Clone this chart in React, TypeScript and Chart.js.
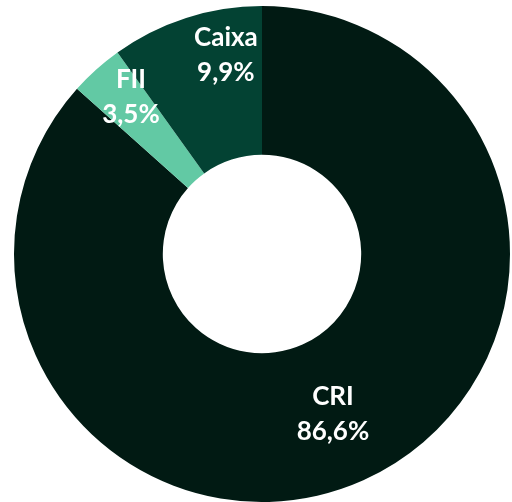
import React, { useEffect, useRef } from "react";
import { Chart, registerables } from "chart.js";

Chart.register(...registerables);

const categories = ["CRI", "FII", "Caixa"];
const values = [86.6, 3.5, 9.9];
const valueLabels = ["86,6%", "3,5%", "9,9%"];
const colors = ["#011a13", "#62c9a4", "#034233"];
// per-label nudges from the arc centroid (styling only)
const labelNudges = [
  [0, 2],
  [-15, -28],
  [17, -34],
];

const labelPlugin = {
  id: "sliceLabels",
  afterDatasetsDraw(chart: any) {
    const ctx = chart.ctx;
    const meta = chart.getDatasetMeta(0);
    ctx.save();
    ctx.fillStyle = "#ffffff";
    ctx.font = "bold 26px Lato";
    ctx.textAlign = "center";
    ctx.textBaseline = "middle";
    meta.data.forEach((arc: any, i: number) => {
      const p = arc.tooltipPosition(false);
      const x = p.x + labelNudges[i][0];
      const y = p.y + labelNudges[i][1];
      ctx.fillText(categories[i], x, y - 17.5);
      ctx.fillText(valueLabels[i], x, y + 17.5);
    });
    ctx.restore();
  },
};

export default function App() {
  const ref = useRef<HTMLCanvasElement>(null);
  useEffect(() => {
    if (!ref.current) return;
    const chart = new Chart(ref.current, {
      type: "doughnut",
      data: {
        labels: categories,
        datasets: [
          {
            data: values,
            backgroundColor: colors,
            borderWidth: 0,
          },
        ],
      },
      options: {
        animation: false,
        responsive: true,
        maintainAspectRatio: false,
        cutout: "40%",
        layout: { padding: { left: 14, right: 2, top: 6, bottom: 0 } },
        plugins: {
          legend: { display: false },
          tooltip: { enabled: false },
        },
      },
      plugins: [labelPlugin],
    });
    return () => chart.destroy();
  }, []);
  return (
    <div style={{ position: "fixed", left: 0, top: 0, width: 512, height: 502, background: "#fff" }}>
      <canvas ref={ref} />
    </div>
  );
}
